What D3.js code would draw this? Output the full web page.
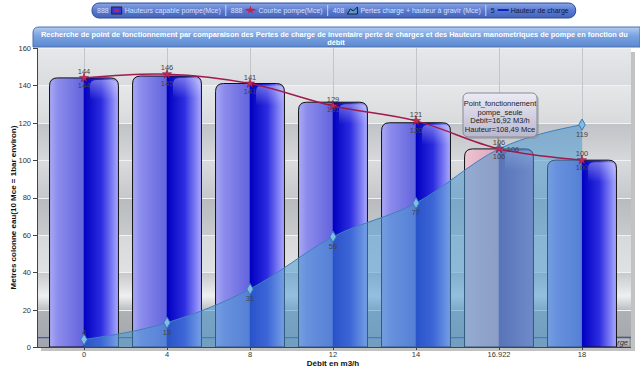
<!DOCTYPE html>
<html lang="fr">
<head>
  <meta charset="UTF-8">
  <title>Point de fonctionnement</title>
  <script src="https://d3js.org/d3.v7.min.js"></script>
  <style>
    body { margin: 0; background: #fff; }
    svg { display: block; font-family: "Liberation Sans", Arial, sans-serif; }
    .axis line { stroke: #444; shape-rendering: crispEdges; }
    .axis path { display: none; }
    .axis text { font-size: 7.5px; fill: #333; font-family: "Liberation Sans", Arial, sans-serif; }
    .lbl { font-size: 7.5px; fill: #444; text-anchor: middle; }
  </style>
</head>
<body>
  <svg id="svg" width="640" height="376"></svg>
  <script>
    // donnees
    var categories = ['0', '4', '8', '12', '14', '16.922', '18']
    var hauteursPompe = [144, 145, 141, 131, 120, 106, 100]
    var courbePompe = [144, 146, 141, 129, 121, 106, 100]
    var pertesCharge = [4, 13, 31, 59, 77, 106, 119]
    var hauteurCharge = 5
    var yTicks = [0, 20, 40, 60, 80, 100, 120, 140, 160]
    var legendValues = ['888', '888', '408', '5']
    var legendNames = ['Hauteurs capable pompe(Mce)', 'Courbe pompe(Mce)',
      'Pertes charge + hauteur à gravir (Mce)', 'Hauteur de charge']
    var pointCategory = '16.922'
    var pointDebit = 16.92
    var pointHauteur = 108.49

    var titleLines = ['Recherche de point de fonctionnement par comparaison des Pertes de charge de inventaire perte de charges et des Hauteurs manometriques de pompe en fonction du', 'débit']

    var plot = { left: 37, right: 631, top: 48, bottom: 347 }

    var svg = d3.select('#svg')
    var defs = svg.append('defs')

    var x = d3.scaleBand()
      .domain(categories)
      .range([42.5, 623.5])
      .paddingInner(0.17)
      .paddingOuter(0.085)
    var y = d3.scaleLinear().domain([0, 160]).range([plot.bottom, plot.top])
    var cx = d => x(d) + x.bandwidth() / 2

    var fr = d3.formatLocale({ decimal: ',', thousands: ' ', grouping: [3], currency: ['', ' €'] }).format('.2f')

    // degrades
    function grad(id, stops, vertical) {
      var g = defs.append('linearGradient').attr('id', id)
        .attr('x1', 0).attr('y1', 0)
        .attr('x2', vertical ? 0 : 1).attr('y2', vertical ? 1 : 0)
      stops.forEach(s => g.append('stop').attr('offset', s[0]).attr('stop-color', s[1]))
    }
    grad('barBlue', [[0, '#aaaaf6'], [0.12, '#8c8cec'], [0.49, '#6464de'], [0.5, '#0000c0'], [0.75, '#2c2ce0'], [1, '#aaaaff']])
    grad('barPink', [[0, '#eec4d2'], [0.49, '#dca6bc'], [0.5, '#6a4a9c'], [1, '#9a7cc0']])
    grad('shine', [[0, '#ffffff'], [1, '#ffffff']], true)
    defs.select('#shine').selectAll('stop').attr('stop-opacity', (d, i) => i ? 0 : 0.35)
    grad('titleGrad', [[0, '#b4ccf0'], [0.45, '#79a2e0'], [1, '#5c89cf']], true)
    grad('legendGrad', [[0, '#8aa6e6'], [0.5, '#5a7ad0'], [1, '#4464bc']], true)
    grad('tipGrad', [[0, '#ecebf4'], [1, '#b9b7cf']], true)
    grad('bgGrad', [
      [0, '#e7e8ea'], [0.125, '#d9dbde'], [0.126, '#e6e7e9'], [0.25, '#d8dadc'],
      [0.251, '#bfc2c6'], [0.375, '#d6d8db'], [0.376, '#dadbdd'], [0.5, '#c6c8cb'],
      [0.501, '#b7babe'], [0.625, '#c8cacd'], [0.626, '#d6d8da'], [0.75, '#e0e1e3'],
      [0.751, '#c6c8cb'], [0.83, '#eeeff0'], [0.875, '#bcbfc2'], [0.876, '#aeb2b6'], [1, '#a2a6aa']
    ], true)

    // legende
    var lg = svg.append('g').attr('font-size', '7px')
    var pill = lg.append('rect')
      .attr('x', 92).attr('y', 3).attr('height', 15).attr('rx', 7)
      .attr('fill', 'url(#legendGrad)').attr('stroke', '#2b4a98')
    var lx = 97
    legendNames.forEach((name, i) => {
      var last = i === legendNames.length - 1
      var col = last ? '#0c1840' : '#d6e0fa'
      var t = lg.append('text').attr('x', lx).attr('y', 13).attr('fill', col).text(legendValues[i])
      lx += t.node().getComputedTextLength() + 3
      if (i === 0) {
        lg.append('rect').attr('x', lx).attr('y', 7).attr('width', 10).attr('height', 7)
          .attr('fill', '#3a3ad8').attr('stroke', '#223')
        lg.append('rect').attr('x', lx + 3).attr('y', 9).attr('width', 4).attr('height', 3).attr('fill', '#d02040')
      } else if (i === 1) {
        lg.append('line').attr('x1', lx).attr('x2', lx + 10).attr('y1', 10).attr('y2', 10)
          .attr('stroke', '#b01848').attr('stroke-width', 1.2)
        lg.append('path').attr('d', d3.symbol(d3.symbolStar, 22)())
          .attr('transform', 'translate(' + (lx + 5) + ',10)').attr('fill', '#c02050')
      } else if (i === 2) {
        lg.append('path').attr('d', 'M' + lx + ',14L' + (lx + 3) + ',9L' + (lx + 6) + ',11L' + (lx + 10) + ',7V14Z')
          .attr('fill', '#5a9ad2').attr('stroke', '#123')
      } else {
        lg.append('line').attr('x1', lx).attr('x2', lx + 11).attr('y1', 10).attr('y2', 10)
          .attr('stroke', '#1020c0').attr('stroke-width', 2)
      }
      lx += 13
      t = lg.append('text').attr('x', lx).attr('y', 13).attr('fill', col).text(name)
      lx += t.node().getComputedTextLength() + 5
      if (!last) {
        lg.append('line').attr('x1', lx).attr('x2', lx).attr('y1', 5).attr('y2', 16).attr('stroke', '#c8d4f4')
        lx += 5
      }
    })
    pill.attr('width', lx - 92 + 2)

    // titre : taille de police ajustee pour tenir dans le bandeau
    svg.append('path')
      .attr('d', 'M33,47V33Q33,27 39,27H640V47Z')
      .attr('fill', 'url(#titleGrad)').attr('stroke', '#4a70b0')
    var t1 = svg.append('text').attr('x', 41).attr('y', 36.5)
      .attr('fill', '#fff').attr('font-weight', 'bold').attr('font-size', '8px')
      .text(titleLines[0])
    var fs = 8 * 588 / t1.node().getComputedTextLength()
    t1.attr('font-size', fs + 'px')
    svg.append('text').attr('x', 336).attr('y', 45)
      .attr('fill', '#fff').attr('font-weight', 'bold').attr('font-size', fs + 'px')
      .attr('text-anchor', 'middle').text(titleLines[1])

    // zone de trace
    svg.append('rect').attr('x', plot.left + 4).attr('y', plot.top + 4)
      .attr('width', plot.right - plot.left).attr('height', plot.bottom - plot.top)
      .attr('fill', '#9a9a9a').attr('opacity', 0.6)
    svg.append('rect').attr('x', plot.left).attr('y', plot.top)
      .attr('width', plot.right - plot.left).attr('height', plot.bottom - plot.top)
      .attr('fill', 'url(#bgGrad)')

    var g = svg.append('g')

    g.selectAll('.hgrid').data(yTicks).enter().append('line')
      .attr('x1', plot.left).attr('x2', plot.right)
      .attr('y1', d => Math.round(y(d)) + 0.5).attr('y2', d => Math.round(y(d)) + 0.5)
      .attr('stroke', '#f2f2f4').attr('stroke-width', 1)
    g.selectAll('.vgrid').data(categories).enter().append('line')
      .attr('x1', d => Math.round(cx(d)) + 0.5).attr('x2', d => Math.round(cx(d)) + 0.5)
      .attr('y1', plot.top).attr('y2', plot.bottom)
      .attr('stroke', '#c4c5c8')

    // hauteur de charge
    g.append('rect').attr('x', 560).attr('y', y(hauteurCharge) - 1)
      .attr('width', plot.right - 560 - 1).attr('height', plot.bottom - y(hauteurCharge))
      .attr('fill', '#b8babc').attr('stroke', '#888')
    g.append('text').attr('x', plot.right - 3).attr('y', plot.bottom - 2.5)
      .attr('text-anchor', 'end').attr('font-size', '7.5px').attr('font-style', 'italic')
      .attr('fill', '#333').text(legendNames[3])
    g.append('line').attr('x1', plot.left).attr('x2', plot.right)
      .attr('y1', y(hauteurCharge)).attr('y2', y(hauteurCharge))
      .attr('stroke', '#3a52e0').attr('stroke-width', 1.3)

    // barres
    function barPath(x0, w, yTop, yBot, r) {
      return 'M' + x0 + ',' + yBot + 'V' + (yTop + r) + 'Q' + x0 + ',' + yTop + ' ' + (x0 + r) + ',' + yTop +
        'H' + (x0 + w - r) + 'Q' + (x0 + w) + ',' + yTop + ' ' + (x0 + w) + ',' + (yTop + r) + 'V' + yBot + 'Z'
    }
    g.selectAll('.bar').data(hauteursPompe).enter().append('path')
      .attr('d', (d, i) => barPath(x(categories[i]), x.bandwidth(), y(d), plot.bottom, 8))
      .attr('fill', (d, i) => categories[i] === pointCategory ? 'url(#barPink)' : 'url(#barBlue)')
      .attr('stroke', '#111').attr('stroke-width', 1)
    // reflet en haut a droite des barres
    g.selectAll('.shine').data(hauteursPompe).enter().append('path')
      .attr('d', (d, i) => barPath(cx(categories[i]) + 6, x.bandwidth() / 2 - 7, y(d) + 2, y(d) + 22, 6))
      .attr('fill', 'url(#shine)')

    // pertes de charge (aire)
    var area = d3.area()
      .x((d, i) => cx(categories[i]))
      .y0(plot.bottom)
      .y1(d => y(d))
      .curve(d3.curveMonotoneX)
    g.append('path').datum(pertesCharge).attr('d', area)
      .attr('fill', '#4a98d0').attr('fill-opacity', 0.55)
    g.append('path').datum(pertesCharge)
      .attr('d', d3.line().x((d, i) => cx(categories[i])).y(d => y(d)).curve(d3.curveMonotoneX))
      .attr('fill', 'none').attr('stroke', '#3f7fbd').attr('stroke-width', 1)

    // courbe pompe
    g.append('path').datum(courbePompe)
      .attr('d', d3.line().x((d, i) => cx(categories[i])).y(d => y(d)).curve(d3.curveCatmullRom))
      .attr('fill', 'none').attr('stroke', '#a01a4c').attr('stroke-width', 1.5)

    // marqueurs
    g.selectAll('.dia').data(pertesCharge).enter().append('path')
      .attr('d', d3.symbol(d3.symbolDiamond, 36)())
      .attr('transform', (d, i) => 'translate(' + cx(categories[i]) + ',' + y(d) + ')')
      .attr('fill', '#80bce8').attr('stroke', '#3a78b6')
    g.selectAll('.star').data(courbePompe).enter().append('path')
      .attr('d', d3.symbol(d3.symbolStar, 26)())
      .attr('transform', (d, i) => 'translate(' + cx(categories[i]) + ',' + y(d) + ')')
      .attr('fill', '#c22a5a').attr('stroke', '#7a1036').attr('stroke-width', 0.5)

    // etiquettes
    g.selectAll('.lb1').data(courbePompe).enter().append('text').attr('class', 'lbl')
      .attr('x', (d, i) => cx(categories[i])).attr('y', d => y(d) - 4).text(d => d)
    g.selectAll('.lb2').data(hauteursPompe).enter().append('text').attr('class', 'lbl')
      .attr('x', (d, i) => cx(categories[i])).attr('y', d => y(d) + 10).attr('fill', '#333').text(d => d)
    // etiquette de l'aire decalee a droite si elle tombe sur celle de la barre
    var clash = (d, i) => Math.abs(y(d) - y(hauteursPompe[i])) < 8
    g.selectAll('.lb3').data(pertesCharge).enter().append('text').attr('class', 'lbl')
      .attr('x', (d, i) => cx(categories[i]) + (clash(d, i) ? 14 : 0))
      .attr('y', (d, i) => clash(d, i) ? y(d) + 3 : (y(d) + 12 > plot.bottom - 2 ? y(d) - 5 : y(d) + 12))
      .text(d => d)

    // axes
    svg.append('g').attr('class', 'axis')
      .attr('transform', 'translate(' + plot.left + ',0)')
      .call(d3.axisLeft(y).tickValues(yTicks).tickSize(4).tickPadding(2))
    svg.append('g').attr('class', 'axis')
      .attr('transform', 'translate(0,' + plot.bottom + ')')
      .call(d3.axisBottom(x).tickSize(3).tickPadding(2))
    svg.append('line').attr('x1', plot.left + 0.5).attr('x2', plot.left + 0.5)
      .attr('y1', plot.top).attr('y2', plot.bottom).attr('stroke', '#444')
    svg.append('line').attr('x1', plot.left).attr('x2', plot.right)
      .attr('y1', plot.bottom + 0.5).attr('y2', plot.bottom + 0.5).attr('stroke', '#444')

    svg.append('text')
      .attr('transform', 'translate(16,' + ((plot.top + plot.bottom) / 2 + 10) + ') rotate(-90)')
      .attr('text-anchor', 'middle').attr('font-size', '8px').attr('font-weight', 'bold').attr('fill', '#111')
      .text('Metres colonne eau(10 Mce = 1bar environ)')
    svg.append('text').attr('x', 333).attr('y', 366)
      .attr('text-anchor', 'middle').attr('font-size', '8px').attr('font-weight', 'bold').attr('fill', '#111')
      .text('Débit en m3/h')

    // bulle point de fonctionnement
    var px = cx(pointCategory)
    var tip = svg.append('g')
    tip.append('line').attr('x1', px - 1).attr('y1', 137).attr('x2', px).attr('y2', y(courbePompe[5]) - 2)
      .attr('stroke', '#777')
    tip.append('rect').attr('x', 465).attr('y', 95).attr('width', 74).attr('height', 44).attr('rx', 5)
      .attr('fill', '#888').attr('opacity', 0.4)
    tip.append('rect').attr('x', 463).attr('y', 93).attr('width', 74).attr('height', 44).attr('rx', 5)
      .attr('fill', 'url(#tipGrad)').attr('stroke', '#8a8898')
    var tipLines = ['Point_fonctionnement', 'pompe_seule', 'Debit=' + fr(pointDebit) + ' M3/h', 'Hauteur=' + fr(pointHauteur) + ' Mce']
    tip.selectAll('text').data(tipLines).enter().append('text')
      .attr('x', 500).attr('y', (d, i) => 106 + i * 8.6)
      .attr('text-anchor', 'middle').attr('font-size', '7.5px').attr('fill', '#1a1a1a')
      .text(d => d)
  </script>
</body>
</html>
